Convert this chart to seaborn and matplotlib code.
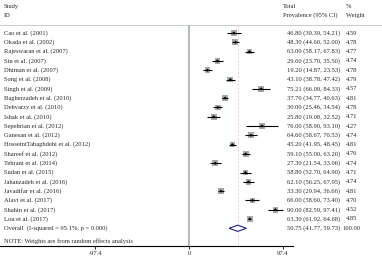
import numpy as np
import pandas as pd
import matplotlib.pyplot as plt
import seaborn as sns

studies = ["Cao et al. (2001)", "Okada et al. (2002)", "Rajeswaran et al. (2007)",
           "Sin et al. (2007)", "Dhiman et al. (2007)", "Song et al. (2008)",
           "Singh et al. (2009)", "Bagherzadeh et al. (2010)", "Dehvarzy et al. (2010)",
           "Ishak et al. (2010)", "Sepehrian et al. (2012)", "Ganesan et al. (2012)",
           "HosseiniTabaghdehi et al. (2012)", "Shareef et al. (2012)", "Tehrani et al. (2014)",
           "Sudan et al. (2015)", "Jahanzadeh et al. (2016)", "Javadifar et al. (2016)",
           "Alavi et al. (2017)", "Shahin et al. (2017)", "Lou et al. (2017)"]
es = [46.80, 48.30, 63.00, 29.60, 19.20, 43.10, 75.21, 37.70, 30.00, 25.80, 76.00,
      64.60, 45.20, 59.10, 27.30, 58.80, 62.10, 33.30, 66.00, 90.00, 63.30]
lo = [39.39, 44.60, 58.17, 23.70, 14.87, 38.78, 66.09, 34.77, 25.46, 19.08, 58.90,
      58.67, 41.95, 55.00, 21.54, 52.70, 56.25, 29.94, 58.60, 82.59, 61.92]
hi = [54.21, 52.00, 67.83, 35.50, 23.53, 47.42, 84.33, 40.63, 34.54, 32.52, 93.10,
      70.53, 48.45, 63.20, 33.06, 64.90, 67.95, 36.66, 73.40, 97.41, 64.68]
weights = [4.59, 4.78, 4.77, 4.74, 4.78, 4.79, 4.57, 4.81, 4.78, 4.71, 4.27,
           4.74, 4.81, 4.76, 4.74, 4.71, 4.74, 4.81, 4.70, 4.52, 4.85]
overall_label = "Overall  (I-squared = 95.1%, p = 0.000)"
overall = [50.75, 41.77, 59.73]
xticks = [-97.4, 0, 97.4]

df = pd.DataFrame({"study": studies, "es": es, "lo": lo, "hi": hi, "w": weights})
df["row"] = np.arange(1, len(df) + 1)
n = len(df)

W, H = 382, 259
fig = plt.figure(figsize=(W / 100, H / 100), dpi=100)
ax = fig.add_axes([0, 0, 1, 1])
scale = 0.96
x0 = 189
rowh = 9.3
top = 33

def ypx(p):
    return 1 + (p - top) / rowh

fs = 4.7
fam = "Liberation Serif"
tc = "#2a2a2a"
yt = ax.get_yaxis_transform()

# header
ax.text(4 / W, ypx(6), "Study", transform=yt, fontsize=fs, family=fam, color=tc, va="center")
ax.text(4 / W, ypx(15), "ID", transform=yt, fontsize=fs, family=fam, color=tc, va="center")
ax.text(283 / W, ypx(6), "Total", transform=yt, fontsize=fs, family=fam, color=tc, va="center")
ax.text(283 / W, ypx(15), "Prevalence (95% CI)", transform=yt, fontsize=fs, family=fam, color=tc, va="center")
ax.text(346 / W, ypx(6), "%", transform=yt, fontsize=fs, family=fam, color=tc, va="center")
ax.text(346 / W, ypx(15), "Weight", transform=yt, fontsize=fs, family=fam, color=tc, va="center")
ax.axhline(ypx(25), color="#c9d1cd", lw=0.8)

# reference lines
ax.vlines(0, ypx(25), ypx(246), color="#a5b0ab", lw=1.2)
ax.vlines(overall[0], ypx(25), ypx(246), color="#f2c6d8", lw=0.7, linestyles=(0, (2, 2)))

# CIs and markers
ax.hlines(df["row"], df["lo"], df["hi"], color="black", lw=0.8, zorder=3)
sns.scatterplot(data=df, x="es", y="row", marker="s", color="#a8a8a8", s=df["w"] * 3.6,
                edgecolor="none", ax=ax, legend=False, zorder=2)
sns.scatterplot(data=df, x="es", y="row", marker="D", color="black", s=2.5,
                edgecolor="none", ax=ax, legend=False, zorder=4)
ax.set_xlim(-x0 / scale, (W - x0) / scale)
ax.set_ylim(1 + (H - top) / rowh, 1 - top / rowh)
ax.axis("off")

for _, r in df.iterrows():
    ax.text(4 / W, r["row"], r["study"], transform=yt, fontsize=fs, family=fam, color=tc, va="center")
    ax.text(287 / W, r["row"], f"{r['es']:.2f} ({r['lo']:.2f}, {r['hi']:.2f})", transform=yt,
            fontsize=fs, family=fam, color=tc, va="center")
    ax.text(346 / W, r["row"], f"{r['w']:.2f}", transform=yt, fontsize=fs, family=fam, color=tc, va="center")

# overall diamond
yo = n + 1
ax.fill([overall[1], overall[0], overall[2], overall[0]], [yo, yo - 0.33, yo, yo + 0.33],
        facecolor="white", edgecolor="#1f1f8f", lw=0.8, zorder=3)
ax.text(4 / W, yo, overall_label, transform=yt, fontsize=fs, family=fam, color=tc, va="center")
ax.text(287 / W, yo, f"{overall[0]:.2f} ({overall[1]:.2f}, {overall[2]:.2f})", transform=yt,
        fontsize=fs, family=fam, color=tc, va="center")
ax.text(342 / W, yo, "100.00", transform=yt, fontsize=fs, family=fam, color=tc, va="center")

ax.text(4 / W, ypx(241), "NOTE: Weights are from random effects analysis", transform=yt,
        fontsize=fs, family=fam, color=tc, va="center")

# axis
ax.plot([0, 293 / W], [ypx(246.5), ypx(246.5)], transform=yt, color="black", lw=0.8)
for t in xticks:
    ax.vlines(t, ypx(246.5), ypx(249), color="black", lw=0.6)
    ax.text(t, ypx(254), f"{t:g}" if t != 0 else "0", fontsize=fs, family=fam, color=tc,
            ha="center", va="center")

fig.savefig("out.png", dpi=100, facecolor="white")
